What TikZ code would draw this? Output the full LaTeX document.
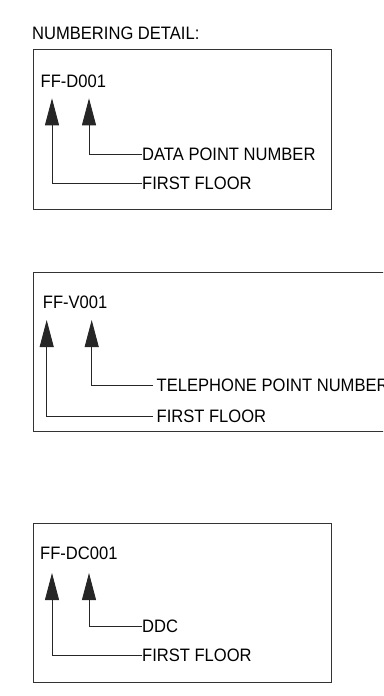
\documentclass[tikz,border=0pt]{standalone}
\usepackage{fontspec}
\setmainfont{Liberation Sans}
\usetikzlibrary{arrows.meta}
\newcommand\sqtext[1]{\scalebox{0.92}[1]{#1}}
\tikzset{
  txt/.style={inner sep=0pt, font=\fontsize{18}{21}\selectfont},
  lbl/.style={txt, anchor=west},
  frame/.style={draw=black!80, line width=0.9pt},
  arr/.style={draw=black!85, line width=0.9pt, -{Triangle[length=27pt,width=14pt]}}
}
\begin{document}
\begin{tikzpicture}[x=1pt,y=-1pt]
\useasboundingbox (0,0) rectangle (383,696);
\clip (0,0) rectangle (383,696);
\node[txt, anchor=base west] (title) at (32,39.3) {\sqtext{NUMBERING DETAIL:}};

% Box 1
\draw[frame] (33.3,49.5) rectangle (331.5,209.3);
\node[txt, anchor=base west] (c1) at (40.5,87.5) {\sqtext{FF-D001}};
\coordinate (t1a) at (52,98.3);
\coordinate (t1b) at (89,98.3);
\node[lbl] (l1b) at (142,154.3) {\sqtext{DATA POINT NUMBER}};
\node[lbl] (l1a) at (142,183.3) {\sqtext{FIRST FLOOR}};
\draw[arr] (l1b.west) -| (t1b);
\draw[arr] (l1a.west) -| (t1a);

% Box 2
\draw[frame] (33.3,272.5) rectangle (420,431.5);
\node[txt, anchor=base west] (c2) at (42.7,308) {\sqtext{FF-V001}};
\coordinate (t2a) at (46.7,320);
\coordinate (t2b) at (91.7,320);
\node[lbl, inner xsep=3.5pt] (l2b) at (153,385) {\sqtext{TELEPHONE POINT NUMBER}};
\node[lbl, inner xsep=3.5pt] (l2a) at (153,416) {\sqtext{FIRST FLOOR}};
\draw[arr] (l2b.west) -| (t2b);
\draw[arr] (l2a.west) -| (t2a);

% Box 3
\draw[frame] (33.3,523.3) rectangle (331.5,682.3);
\node[txt, anchor=base west] (c3) at (40,559.3) {\sqtext{FF-DC001}};
\coordinate (t3a) at (52,573);
\coordinate (t3b) at (89,573);
\node[lbl] (l3b) at (142,626.7) {\sqtext{DDC}};
\node[lbl] (l3a) at (142,655.7) {\sqtext{FIRST FLOOR}};
\draw[arr] (l3b.west) -| (t3b);
\draw[arr] (l3a.west) -| (t3a);
\end{tikzpicture}
\end{document}
